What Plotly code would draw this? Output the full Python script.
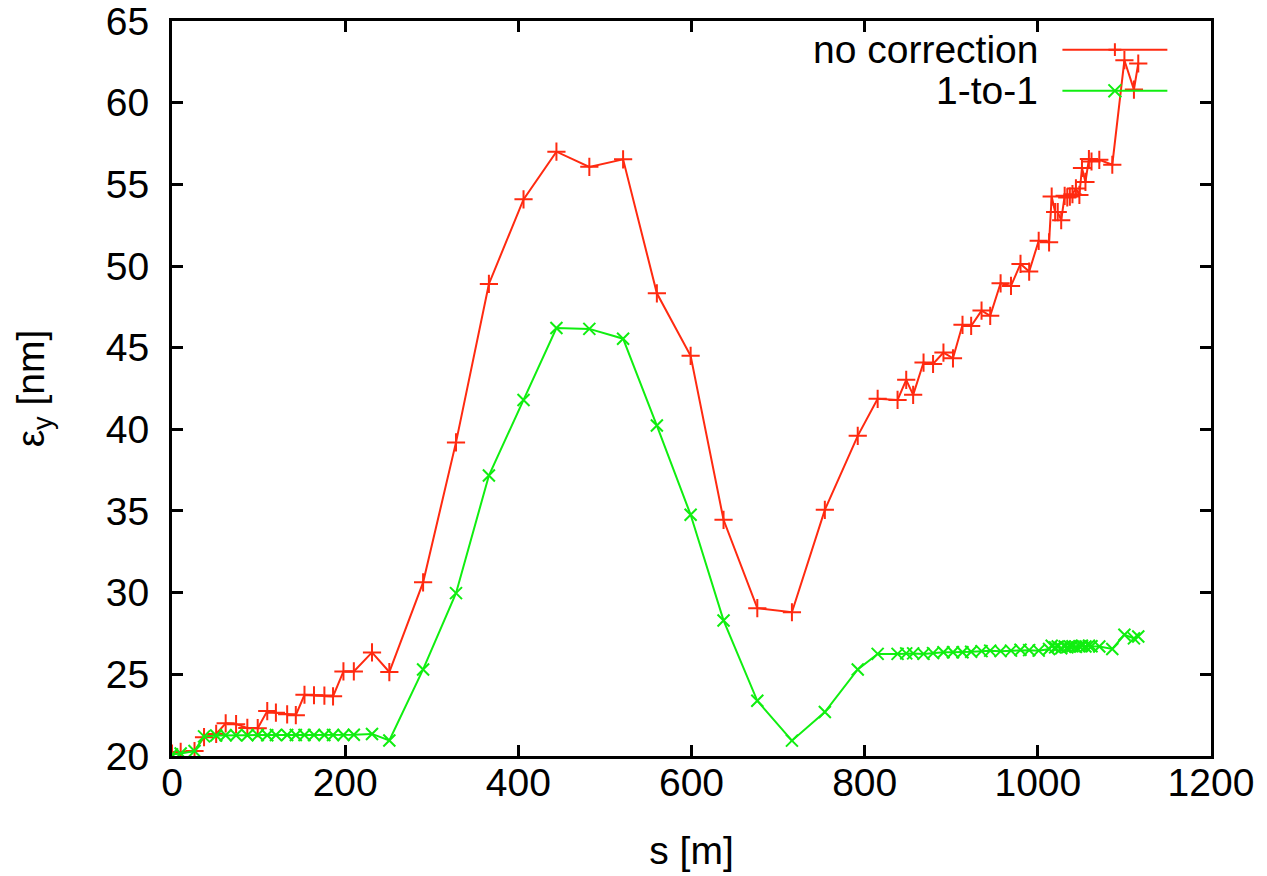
import plotly.graph_objects as go

s = [0, 10, 26, 37, 51, 62, 74, 87, 99, 110, 120, 133, 143, 153, 164, 176, 186, 198, 210, 231,
     251, 290, 328, 366, 406, 444, 482, 521, 560, 599, 637, 676, 716, 754, 792, 815, 838, 848,
     856, 868, 879, 891, 902, 913, 923, 935, 945, 957, 969, 980, 990, 1001, 1013, 1016, 1020,
     1023, 1027, 1031, 1034, 1037, 1040, 1044, 1048, 1051, 1055, 1059, 1062, 1071, 1086, 1100,
     1111, 1116]

no_correction = [20.15, 20.25, 20.3, 21.15, 21.35, 22.0, 21.95, 21.72, 21.7, 22.75, 22.65, 22.55,
                 22.5, 23.75, 23.72, 23.7, 23.65, 25.18, 25.18, 26.34, 25.14, 30.63, 39.2, 48.9,
                 54.08, 57.0, 56.07, 56.53, 48.33, 44.5, 34.46, 29.05, 28.8, 35.07, 39.6, 41.87,
                 41.8, 43.03, 42.11, 44.09, 44.0, 44.7, 44.35, 46.4, 46.33, 47.27, 46.95, 48.94,
                 48.78, 50.13, 49.66, 51.54, 51.45, 54.25, 53.3, 53.3, 52.8, 54.3, 54.2, 54.25,
                 54.4, 54.75, 54.35, 56.0, 55.15, 56.55, 56.4, 56.5, 56.2, 62.6, 60.8, 62.4]

one_to_one = [20.1, 20.15, 20.3, 21.2, 21.25, 21.27, 21.27, 21.27, 21.28, 21.27, 21.28, 21.28,
              21.28, 21.28, 21.28, 21.28, 21.28, 21.28, 21.3, 21.35, 20.95, 25.3, 29.97, 37.17,
              41.8, 46.2, 46.15, 45.55, 40.23, 34.77, 28.3, 23.38, 20.94, 22.69, 25.3, 26.25,
              26.25, 26.28, 26.28, 26.25, 26.3, 26.35, 26.35, 26.35, 26.38, 26.42, 26.45, 26.42,
              26.45, 26.5, 26.48, 26.45, 26.55, 26.75, 26.65, 26.7, 26.6, 26.7, 26.65, 26.7,
              26.72, 26.68, 26.72, 26.75, 26.7, 26.75, 26.72, 26.7, 26.55, 27.42, 27.2, 27.32]

series_names = ["no correction", "1-to-1"]
RED = "#ff2a10"
GREEN = "#10ee10"

x_ticks = [0, 200, 400, 600, 800, 1000, 1200]
y_ticks = [20, 25, 30, 35, 40, 45, 50, 55, 60, 65]

fig = go.Figure()
fig.add_trace(go.Scatter(
    x=s, y=no_correction, mode="lines+markers", name=series_names[0],
    line=dict(color=RED, width=2),
    marker=dict(symbol="cross-thin", size=13, line=dict(color=RED, width=2)),
    showlegend=False))
fig.add_trace(go.Scatter(
    x=s, y=one_to_one, mode="lines+markers", name=series_names[1],
    line=dict(color=GREEN, width=2),
    marker=dict(symbol="x-thin", size=12, line=dict(color=GREEN, width=2)),
    showlegend=False))

font = "Liberation Sans, Arial, Helvetica, sans-serif"
FS = 39
axis_common = dict(
    showgrid=False, zeroline=False, showline=True, linecolor="black", linewidth=3,
    mirror="allticks", ticks="inside", ticklen=11, tickwidth=3, tickcolor="black",
    tickfont=dict(family=font, size=FS, color="black"), ticklabeloverflow="allow",
    automargin=False,
)
fig.update_xaxes(range=[-0.01, 1200.01], tickvals=x_ticks, ticktext=[str(v) for v in x_ticks],
                 ticklabelstandoff=-10,
                 title=dict(text="s [m]", font=dict(family=font, size=FS, color="black"), standoff=34),
                 **axis_common)
fig.update_yaxes(range=[19.999, 65.001], tickvals=y_ticks, ticktext=[str(v) for v in y_ticks],
                 ticklabelstandoff=12,
                 title=dict(text="ε<sub>y</sub> [nm]", font=dict(family=font, size=FS, color="black"), standoff=50),
                 **axis_common)

# custom gnuplot-style legend (text left of sample)
legend_rows = [(series_names[0], RED, "plus", 0.961), (series_names[1], GREEN, "x", 0.905)]
for name, col, kind, yy in legend_rows:
    fig.add_annotation(x=0.835, y=yy, xref="paper", yref="paper", text=name, showarrow=False,
                       xanchor="right", yanchor="middle",
                       font=dict(family=font, size=FS, color="black"))
    fig.add_shape(type="line", xref="paper", yref="paper", x0=0.857, x1=0.958, y0=yy, y1=yy,
                  line=dict(color=col, width=2))
    cx, d = 0.9075, 0.0062
    dy = d * (1039 / 735)
    if kind == "plus":
        path = f"M {cx-d},{yy} L {cx+d},{yy} M {cx},{yy-dy} L {cx},{yy+dy}"
    else:
        path = f"M {cx-d},{yy-dy} L {cx+d},{yy+dy} M {cx-d},{yy+dy} L {cx+d},{yy-dy}"
    fig.add_shape(type="path", xref="paper", yref="paper", path=path, line=dict(color=col, width=2))

fig.update_layout(
    width=1267, height=876,
    margin=dict(l=164, r=64, t=13, b=128),
    plot_bgcolor="white", paper_bgcolor="white",
    font=dict(family=font, color="black"),
)

fig.write_html("out.html")
